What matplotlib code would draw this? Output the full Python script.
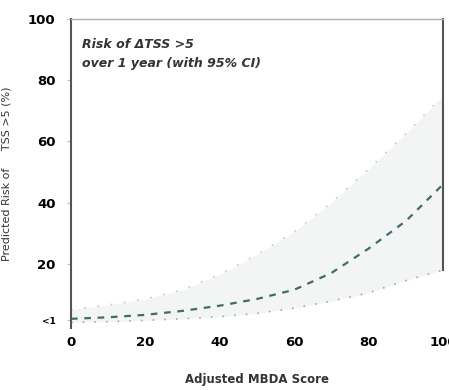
import matplotlib
matplotlib.use("Agg")
import matplotlib.pyplot as plt
import numpy as np

score = [0, 10, 20, 30, 40, 50, 60, 70, 80, 90, 100]
risk = [2.0, 2.5, 3.3, 4.6, 6.3, 8.5, 11.5, 17.0, 25.0, 34.0, 46.0]
upper = [5.0, 6.5, 8.5, 11.5, 16.5, 23.0, 30.5, 40.0, 51.0, 62.5, 75.0]
lower = [0.8, 1.1, 1.5, 2.0, 2.7, 3.8, 5.5, 7.8, 10.5, 14.5, 18.0]
yticks = [1.5, 20, 40, 60, 80, 100]
yticklabels = ["<1", "20", "40", "60", "80", "100"]
xticks = [0, 20, 40, 60, 80, 100]

fig = plt.figure(figsize=(4.49, 3.90), dpi=100)
ax = fig.add_axes([0.158, 0.159, 0.829, 0.792])

ax.fill_between(score, lower, upper, color="#f3f4f4", lw=0)
ax.plot(score, upper, color="#c8c8c8", lw=1.2, ls=(0, (1, 7)))
ax.plot(score, lower, color="#a8a8a8", lw=1.2, ls=(0, (1, 6)))
ax.plot(score, risk, color="#3d6e6c", lw=1.6, ls=(0, (3, 3)))

ax.set_xlim(0, 100)
ax.set_ylim(-1, 100)
ax.set_xticks(xticks)
ax.set_xticklabels([str(v) for v in xticks], fontweight="bold", fontsize=9.5)
ax.set_yticks(yticks)
ax.set_yticklabels(yticklabels, fontweight="bold", fontsize=9.5)
ax.tick_params(axis="x", length=0, pad=6)
ax.tick_params(axis="y", length=3, color="#bbbbbb", pad=8)
ax.get_yticklabels()[0].set_fontsize(6.5)

ax.spines["bottom"].set_visible(False)
ax.spines["top"].set_color("#b0b0b0")
ax.spines["top"].set_linewidth(1.0)
ax.spines["left"].set_color("#555555")
ax.spines["left"].set_linewidth(1.5)
ax.spines["right"].set_color("#555555")
ax.spines["right"].set_linewidth(1.5)
ax.spines["right"].set_bounds(lower[-1], 100)

ax.text(0.03, 0.94, "Risk of ΔTSS >5\nover 1 year (with 95% CI)", transform=ax.transAxes,
        fontsize=9, fontweight="bold", style="italic", va="top", ha="left",
        color="#333333", linespacing=1.6)

ax.set_ylabel("Predicted Risk of     TSS >5 (%)", fontsize=8, color="#333333", labelpad=12)
ax.set_xlabel("Adjusted MBDA Score", fontsize=8.5, fontweight="bold", color="#333333", labelpad=17)

fig.savefig("out.png", dpi=100)
